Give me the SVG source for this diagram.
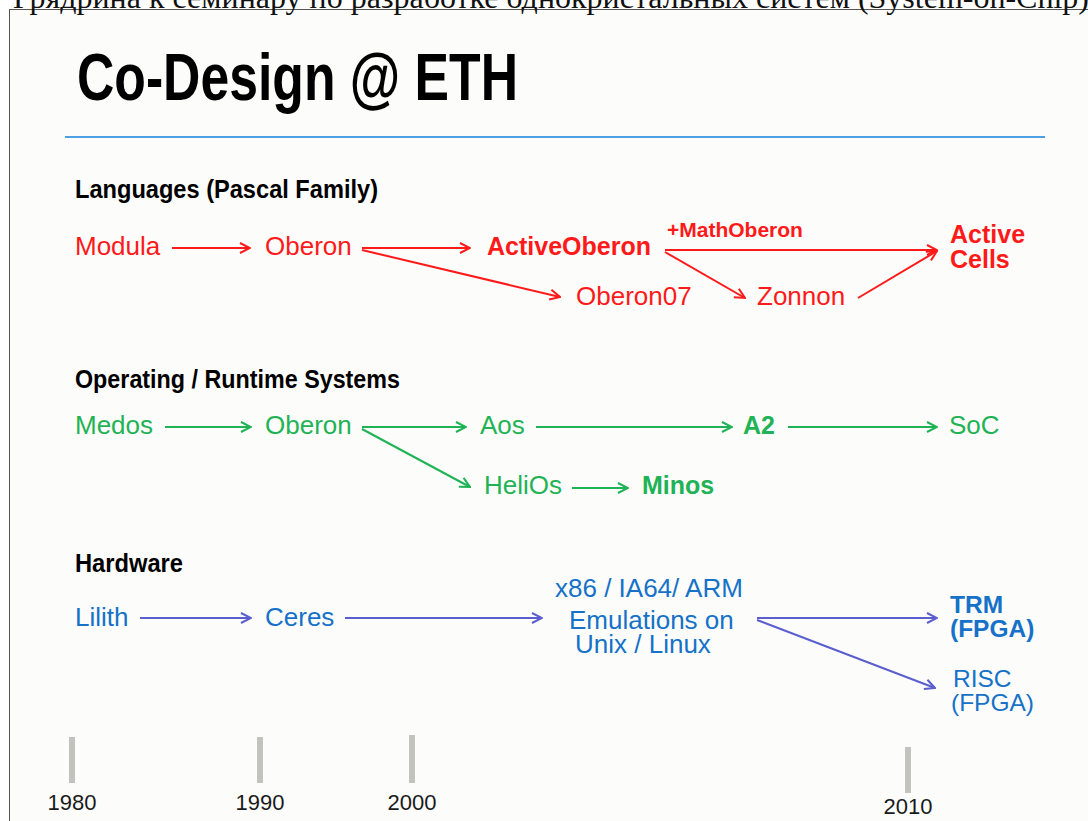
<svg xmlns="http://www.w3.org/2000/svg" width="1088" height="821" viewBox="0 0 1088 821">
  <style>
    .caption { font-family: "Liberation Serif", "Times New Roman", serif; font-size: 32px; fill: #111; }
    .title { font-family: "Liberation Sans", Arial, sans-serif; font-weight: bold; fill: #000; }
    .head { font-family: "Liberation Sans", Arial, sans-serif; font-weight: bold; font-size: 25px; fill: #000; }
    .n { font-family: "Liberation Sans", Arial, sans-serif; font-size: 26px; }
    .b { font-weight: bold; font-size: 25px; }
    .sm { font-size: 24.5px; }
    .red { fill: #ff1a1a; }
    .green { fill: #1fb356; }
    .blue { fill: #1572c8; }
    .year { font-family: "Liberation Sans", Arial, sans-serif; font-size: 22px; fill: #1a1a1a; text-anchor: middle; }
    .lr { stroke: #ff1a1a; stroke-width: 2; fill: none; marker-end: url(#ahRed); }
    .lg { stroke: #1fb356; stroke-width: 2; fill: none; marker-end: url(#ahGreen); }
    .lb { stroke: #5a5ecf; stroke-width: 2; fill: none; marker-end: url(#ahBlue); }
    .tick { stroke: #c2c3bf; stroke-width: 6; }
  </style>
  <defs>
    <marker id="ahRed" viewBox="0 0 12 12" refX="11" refY="6" markerWidth="12" markerHeight="12" markerUnits="userSpaceOnUse" orient="auto">
      <path d="M1,1 L11,6 L1,11" fill="none" stroke="#ff1a1a" stroke-width="2"/>
    </marker>
    <marker id="ahGreen" viewBox="0 0 12 12" refX="11" refY="6" markerWidth="12" markerHeight="12" markerUnits="userSpaceOnUse" orient="auto">
      <path d="M1,1 L11,6 L1,11" fill="none" stroke="#1fb356" stroke-width="2"/>
    </marker>
    <marker id="ahBlue" viewBox="0 0 12 12" refX="11" refY="6" markerWidth="12" markerHeight="12" markerUnits="userSpaceOnUse" orient="auto">
      <path d="M1,1 L11,6 L1,11" fill="none" stroke="#5a5ecf" stroke-width="2"/>
    </marker>
  </defs>

  <!-- page background and slide frame -->
  <rect x="0" y="0" width="1088" height="821" fill="#ffffff"/>
  <rect x="9.5" y="9.5" width="1100" height="830" fill="#fcfcfa" stroke="#555" stroke-width="1"/>
  <text class="caption" x="13" y="8">Грядрина к семинару по разработке однокристальных систем (System-on-Chip)</text>

  <!-- slide title -->
  <text class="title" x="77" y="100" font-size="66" textLength="441" lengthAdjust="spacingAndGlyphs">Co-Design @ ETH</text>
  <line x1="65" y1="137" x2="1045" y2="137" stroke="#1580dc" stroke-width="1.5"/>

  <!-- section headings -->
  <text class="head" x="75" y="198" textLength="303" lengthAdjust="spacingAndGlyphs">Languages (Pascal Family)</text>
  <text class="head" x="75" y="388" textLength="325" lengthAdjust="spacingAndGlyphs">Operating / Runtime Systems</text>
  <text class="head" x="75" y="572" textLength="108" lengthAdjust="spacingAndGlyphs">Hardware</text>

  <!-- connectors -->
  <g id="connectors">
    <line class="lr" x1="172" y1="248" x2="250" y2="248"/>
    <line class="lr" x1="362" y1="248" x2="470" y2="248"/>
    <line class="lr" x1="362" y1="250" x2="560" y2="297"/>
    <line class="lr" x1="665" y1="250" x2="937" y2="250"/>
    <line class="lr" x1="665" y1="252" x2="745" y2="298"/>
    <line class="lr" x1="858" y1="298" x2="937" y2="251"/>

    <line class="lg" x1="165" y1="427" x2="251" y2="427"/>
    <line class="lg" x1="362" y1="427" x2="466" y2="427"/>
    <line class="lg" x1="362" y1="429" x2="470" y2="487"/>
    <line class="lg" x1="536" y1="427" x2="732" y2="427"/>
    <line class="lg" x1="788" y1="427" x2="937" y2="427"/>
    <line class="lg" x1="572" y1="488" x2="628" y2="488"/>

    <line class="lb" x1="140" y1="618" x2="251" y2="618"/>
    <line class="lb" x1="345" y1="618" x2="542" y2="618"/>
    <line class="lb" x1="757" y1="618" x2="937" y2="618"/>
    <line class="lb" x1="757" y1="620" x2="935" y2="688"/>
  </g>

  <!-- languages -->
  <g id="modula"><text class="n red" x="75" y="255">Modula</text></g>
  <g id="oberon-lang"><text class="n red" x="265" y="255">Oberon</text></g>
  <g id="activeoberon"><text class="n red b" x="487" y="255">ActiveOberon</text></g>
  <g id="mathoberon"><text class="n red b" x="667" y="237" style="font-size:21px">+MathOberon</text></g>
  <g id="oberon07"><text class="n red" x="576" y="305">Oberon07</text></g>
  <g id="zonnon"><text class="n red" x="757" y="305">Zonnon</text></g>
  <g id="activecells">
    <text class="n red b" x="950" y="243">Active</text>
    <text class="n red b" x="950" y="268">Cells</text>
  </g>

  <!-- operating / runtime systems -->
  <g id="medos"><text class="n green" x="75" y="434">Medos</text></g>
  <g id="oberon-os"><text class="n green" x="265" y="434">Oberon</text></g>
  <g id="aos"><text class="n green" x="480" y="434">Aos</text></g>
  <g id="a2"><text class="n green b" x="743" y="434">A2</text></g>
  <g id="soc"><text class="n green" x="949" y="434">SoC</text></g>
  <g id="helios"><text class="n green" x="484" y="494">HeliOs</text></g>
  <g id="minos"><text class="n green b" x="642" y="494">Minos</text></g>

  <!-- hardware -->
  <g id="lilith"><text class="n blue" x="75" y="626">Lilith</text></g>
  <g id="ceres"><text class="n blue" x="265" y="626">Ceres</text></g>
  <g id="emulations">
    <text class="n blue" x="555" y="597">x86 / IA64/ ARM</text>
    <text class="n blue" x="569" y="629">Emulations on</text>
    <text class="n blue" x="575" y="653">Unix / Linux</text>
  </g>
  <g id="trm">
    <text class="n blue b sm" x="950" y="613">TRM</text>
    <text class="n blue b sm" x="950" y="637">(FPGA)</text>
  </g>
  <g id="risc">
    <text class="n blue sm" x="953" y="687">RISC</text>
    <text class="n blue sm" x="951" y="711">(FPGA)</text>
  </g>

  <!-- timeline -->
  <g id="timeline">
    <line class="tick" x1="72" y1="737" x2="72" y2="783"/>
    <line class="tick" x1="260" y1="737" x2="260" y2="783"/>
    <line class="tick" x1="412" y1="735" x2="412" y2="783"/>
    <line class="tick" x1="908" y1="747" x2="908" y2="793"/>
    <text class="year" x="72" y="810">1980</text>
    <text class="year" x="260" y="810">1990</text>
    <text class="year" x="412" y="810">2000</text>
    <text class="year" x="908" y="814">2010</text>
  </g>
</svg>
